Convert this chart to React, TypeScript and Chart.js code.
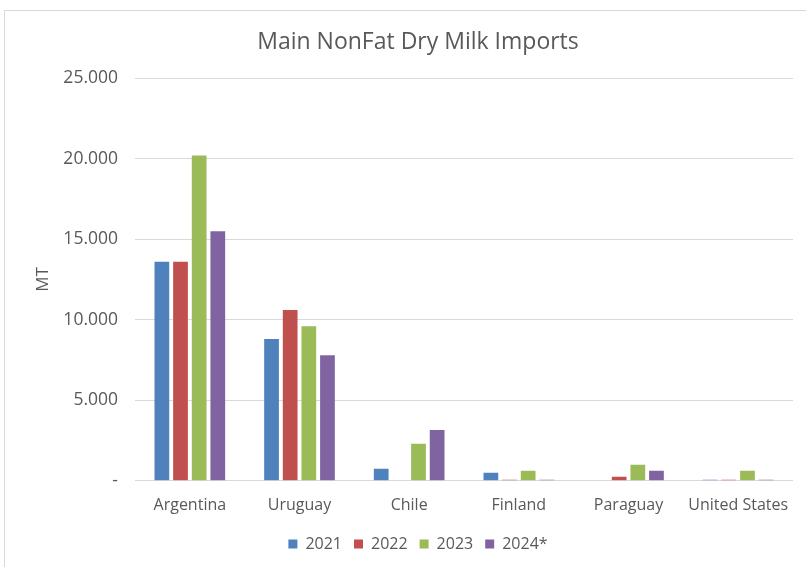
import React, { useEffect, useRef } from "react";
import { Chart, registerables } from "chart.js";

Chart.register(...registerables);

const countries = ["Argentina", "Uruguay", "Chile", "Finland", "Paraguay", "United States"];
const seriesLabels = ["2021", "2022", "2023", "2024*"];
const values2021 = [13600, 8800, 750, 500, 0, 60];
const values2022 = [13600, 10600, 0, 60, 250, 60];
const values2023 = [20200, 9600, 2300, 620, 1000, 620];
const values2024 = [15500, 7800, 3150, 60, 620, 60];
const seriesColors = ["#4F81BD", "#C0504D", "#9BBB59", "#8064A2"];

const TEXT = "#595959";
const FONT = "'Open Sans', sans-serif";

function fmtThousands(v: number): string {
  if (v === 0) return "-";
  return Math.round(v).toString().replace(/\B(?=(\d{3})+(?!\d))/g, ".");
}

export default function App() {
  const canvasRef = useRef<HTMLCanvasElement | null>(null);

  useEffect(() => {
    if (!canvasRef.current) return;
    const allSeries = [values2021, values2022, values2023, values2024];
    const chart = new Chart(canvasRef.current, {
      type: "bar",
      data: {
        labels: countries,
        datasets: allSeries.map((data, i) => ({
          label: seriesLabels[i],
          data,
          backgroundColor: seriesColors[i],
          borderWidth: 0,
          categoryPercentage: 0.68,
          barPercentage: 0.79,
        })),
      },
      options: {
        responsive: false,
        animation: false,
        devicePixelRatio: 1,
        layout: { padding: { left: 0, right: 0, top: 0, bottom: 11 } },
        plugins: {
          title: {
            display: true,
            text: "Main NonFat Dry Milk Imports",
            color: TEXT,
            font: { family: FONT, size: 23, weight: "normal" },
            padding: { top: 18, bottom: 21.5 },
          },
          legend: {
            position: "bottom",
            labels: {
              color: TEXT,
              font: { family: FONT, size: 16 },
              boxWidth: 9,
              boxHeight: 9,
              padding: 12,
            },
          },
          tooltip: { enabled: false },
        },
        scales: {
          x: {
            grid: { display: false },
            border: { display: false },
            afterFit: (scale: any) => {
              scale.height += 2;
            },
            ticks: {
              color: TEXT,
              font: { family: FONT, size: 16 },
              padding: 7,
              maxRotation: 0,
              autoSkip: false,
            },
          },
          y: {
            min: 0,
            max: 25000,
            afterFit: (scale: any) => {
              scale.width = 130;
            },
            border: { display: false },
            grid: { color: "#d9d9d9", lineWidth: 1, drawTicks: false },
            ticks: {
              stepSize: 5000,
              color: TEXT,
              font: { family: FONT, size: 17.5 },
              padding: 17,
              callback: (v: any) => fmtThousands(Number(v)),
            },
            title: {
              display: true,
              text: "MT",
              color: TEXT,
              font: { family: FONT, size: 17 },
              padding: { top: 28, bottom: 0 },
            },
          },
          // empty right-hand margin axis so the plot stops short of the frame edge
          yRight: {
            position: "right",
            min: 0,
            max: 25000,
            grid: { display: false },
            border: { display: false },
            ticks: { display: false },
            afterFit: (scale: any) => {
              scale.width = 38;
            },
          },
        },
      },
    });
    return () => chart.destroy();
  }, []);

  return (
    <div
      style={{
        position: "fixed",
        left: 0,
        top: 0,
        width: 806,
        height: 567,
        overflow: "hidden",
        background: "#ffffff",
      }}
    >
      <div
        style={{
          position: "absolute",
          left: 4,
          top: 10,
          width: 826,
          height: 600,
          border: "1px solid #d9d9d9",
          background: "#ffffff",
        }}
      >
        <canvas ref={canvasRef} width={826} height={562} style={{ display: "block" }} />
      </div>
    </div>
  );
}
